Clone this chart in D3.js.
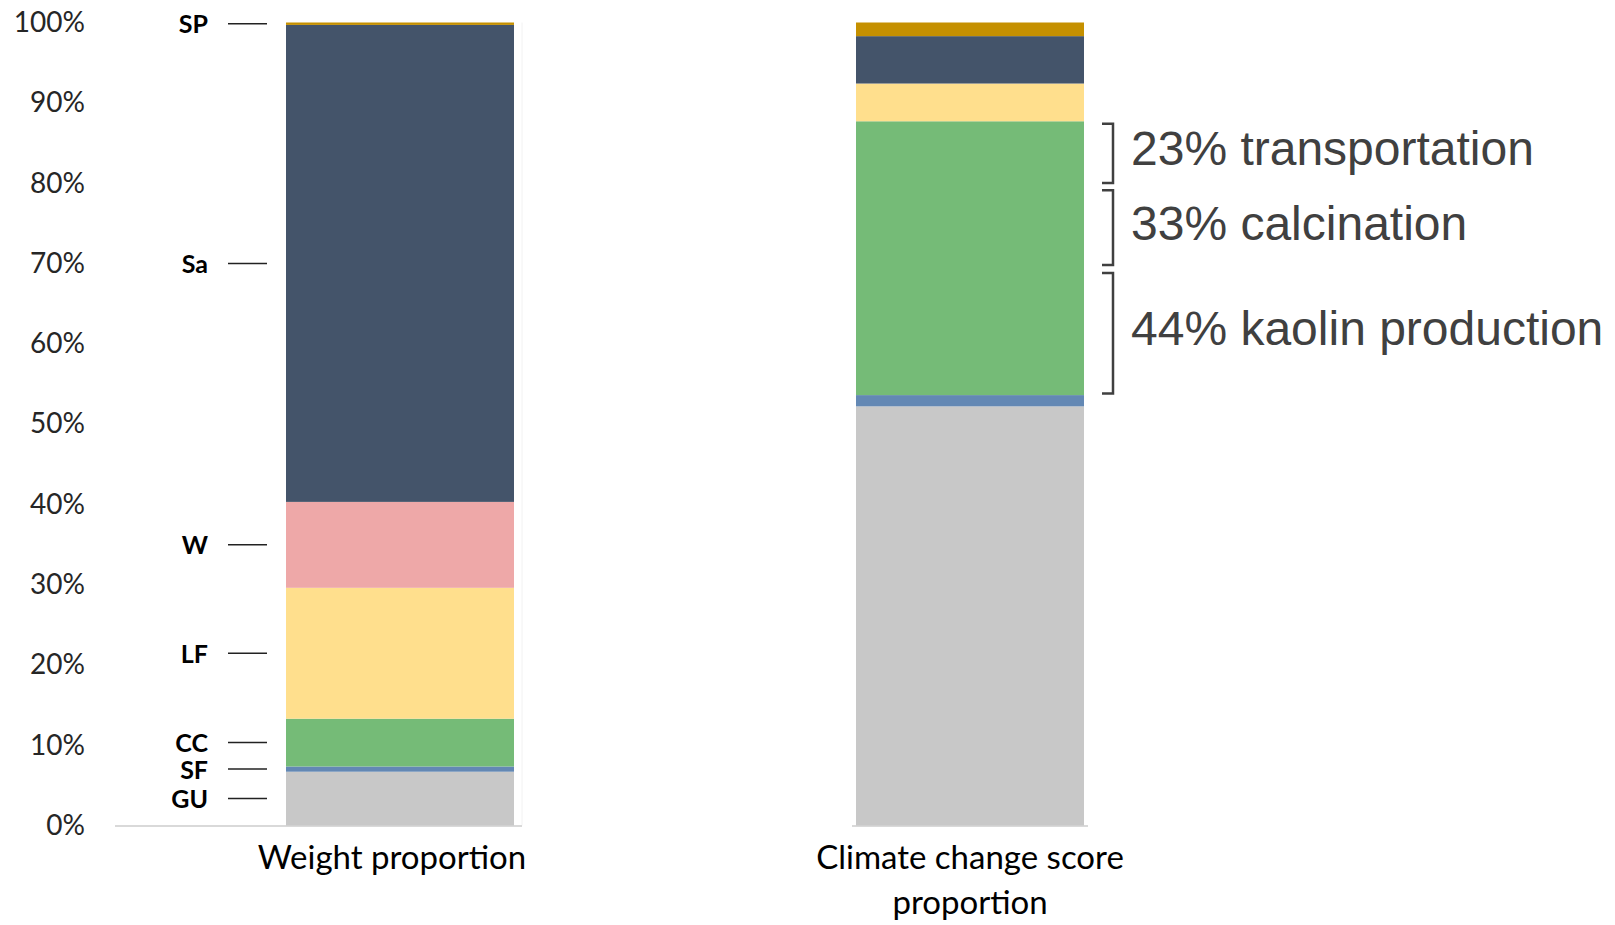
<!DOCTYPE html>
<html>
<head>
<meta charset="utf-8">
<script src="https://cdn.jsdelivr.net/npm/d3@7"></script>
<style>
  body { margin: 0; background: #fff; }
  svg { display: block; }
</style>
</head>
<body>
<div id="chart"></div>
<script>
// components, bottom to top
const components = ['GU', 'SF', 'CC', 'LF', 'W', 'Sa', 'SP'];
const colors = ['#c8c8c8', '#6388b4', '#75bb77', '#ffdf8d', '#eea8a8', '#44546a', '#c59000'];

const categories = ['Weight proportion', 'Climate change score proportion'];
const weightShare = [6.7, 0.65, 5.95, 16.3, 10.7, 59.4, 0.3];
const climateShare = [52.2, 1.4, 34.1, 4.7, 0, 5.9, 1.7];

const yTicks = [0, 10, 20, 30, 40, 50, 60, 70, 80, 90, 100];

// breakdown of the CC climate score (bracket spans in %)
const noteLabels = ['23% transportation', '33% calcination', '44% kaolin production'];
const noteTop = [87.4, 79.1, 68.8];
const noteBottom = [80.0, 69.8, 53.8];

const width = 1615, height = 925;

const svg = d3.select('#chart')
  .append('svg')
  .attr('width', width)
  .attr('height', height);

const rows = categories.map((c, i) => {
  const row = { cat: c };
  const vals = i === 0 ? weightShare : climateShare;
  components.forEach((k, j) => row[k] = vals[j]);
  return row;
});

const stacked = d3.stack().keys(components)(rows);

const x = d3.scaleBand()
  .domain(categories)
  .range([115, 1255])
  .paddingInner(0.6)
  .paddingOuter(0.3);

const y = d3.scaleLinear()
  .domain([0, 100])
  .range([825.5, 22.5]);

// faint plot border on the left chart
svg.append('line')
  .attr('x1', 522).attr('x2', 522)
  .attr('y1', y(100)).attr('y2', y(0))
  .attr('stroke', '#f2f2f2')
  .attr('stroke-width', 1);

// baselines
svg.append('line')
  .attr('x1', 115).attr('x2', x(categories[0]) + x.bandwidth() + 8)
  .attr('y1', y(0) + 0.5).attr('y2', y(0) + 0.5)
  .attr('stroke', '#d9d9d9')
  .attr('stroke-width', 2);

svg.append('line')
  .attr('x1', x(categories[1]) - 4).attr('x2', x(categories[1]) + x.bandwidth() + 4)
  .attr('y1', y(0) + 0.5).attr('y2', y(0) + 0.5)
  .attr('stroke', '#d9d9d9')
  .attr('stroke-width', 2);

// stacked bars
svg.append('g')
  .selectAll('g')
  .data(stacked)
  .join('g')
  .attr('fill', (d, i) => colors[i])
  .selectAll('rect')
  .data(d => d)
  .join('rect')
  .attr('x', d => x(d.data.cat))
  .attr('width', x.bandwidth())
  .attr('y', d => y(d[1]))
  .attr('height', d => y(d[0]) - y(d[1]));

// y axis
const yAxis = svg.append('g')
  .attr('transform', 'translate(88,0)')
  .call(d3.axisLeft(y).tickValues(yTicks).tickSize(0).tickPadding(3)
    .tickFormat(d => d + '%'));
yAxis.select('.domain').remove();
yAxis.selectAll('text')
  .attr('font-family', 'Lato, sans-serif')
  .attr('font-size', 28)
  .attr('fill', '#262626');

// component labels with leader lines (left bar)
const labelG = svg.append('g');
stacked.forEach((s, i) => {
  const seg = s[0];
  const mid = y((seg[0] + seg[1]) / 2);
  labelG.append('text')
    .attr('x', 208)
    .attr('y', mid)
    .attr('dy', '0.38em')
    .attr('text-anchor', 'end')
    .attr('font-family', 'Lato, sans-serif')
    .attr('font-weight', 'bold')
    .attr('font-size', 25)
    .attr('fill', '#000')
    .text(components[i]);
  labelG.append('line')
    .attr('x1', 228).attr('x2', 267)
    .attr('y1', mid).attr('y2', mid)
    .attr('stroke', '#222')
    .attr('stroke-width', 1.5);
});

// category labels
const catG = svg.append('g')
  .attr('font-family', 'Lato, sans-serif')
  .attr('font-size', 33)
  .attr('fill', '#000')
  .attr('text-anchor', 'middle');

categories.forEach((c, i) => {
  const cx = x(c) + x.bandwidth() / 2 + (i === 0 ? -8 : 0);
  const t = catG.append('text')
    .attr('x', cx)
    .attr('y', 869);
  const words = c.split(' ');
  let line = [];
  let tspan = t.append('tspan').attr('x', cx);
  words.forEach(w => {
    line.push(w);
    tspan.text(line.join(' '));
    if (tspan.node().getComputedTextLength() > 340 && line.length > 1) {
      line.pop();
      tspan.text(line.join(' '));
      line = [w];
      tspan = t.append('tspan')
        .attr('x', cx)
        .attr('dy', 45)
        .text(w);
    }
  });
});

// brackets + notes on the climate bar
const bx = x(categories[1]) + x.bandwidth();
const noteG = svg.append('g');
noteLabels.forEach((lab, i) => {
  const top = y(noteTop[i]);
  const bot = y(noteBottom[i]);
  noteG.append('path')
    .attr('d', `M${bx + 18},${top}H${bx + 29}V${bot}H${bx + 18}`)
    .attr('fill', 'none')
    .attr('stroke', '#404040')
    .attr('stroke-width', 2.5);
  noteG.append('text')
    .attr('x', bx + 47)
    .attr('y', (top + bot) / 2 + 12)
    .attr('font-family', '"Liberation Sans", Arial, sans-serif')
    .attr('font-size', 48)
    .attr('fill', '#404040')
    .text(lab);
});
</script>
</body>
</html>
